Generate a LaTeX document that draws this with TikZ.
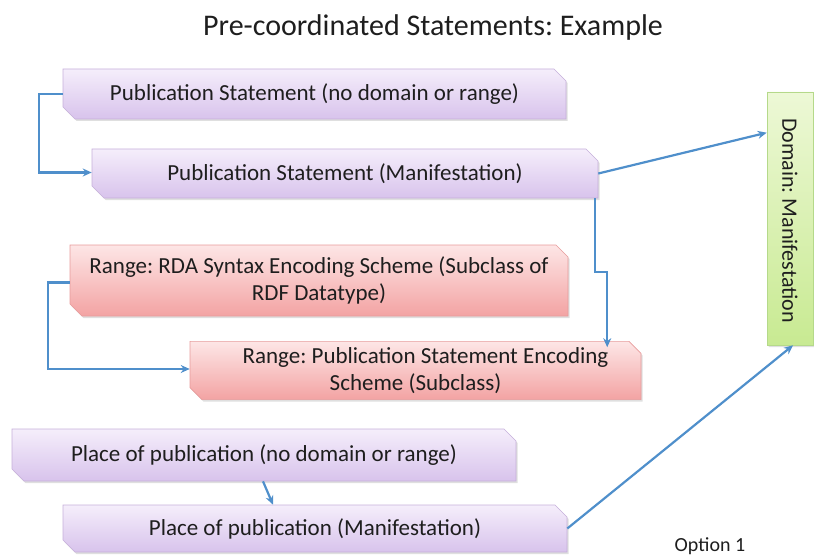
\documentclass[tikz,border=0pt]{standalone}
\usepackage{fontspec}
\setmainfont{Carlito}
\frenchspacing
\usetikzlibrary{shapes.misc,shadows,arrows.meta,calc}
\definecolor{arrblue}{HTML}{4F8FCB}
\definecolor{purtop}{HTML}{F5EEFB}
\definecolor{purbot}{HTML}{D8C3EC}
\definecolor{purline}{HTML}{C6B0DA}
\definecolor{redtop}{HTML}{FDE6E6}
\definecolor{redbot}{HTML}{F3A3A3}
\definecolor{redline}{HTML}{E79C9C}
\definecolor{grntop}{HTML}{EDF8D6}
\definecolor{grnbot}{HTML}{C8EA92}
\definecolor{grnline}{HTML}{B5D98A}
\definecolor{txt}{HTML}{1E1E1E}
\begin{document}
\begin{tikzpicture}[x=1pt,y=-1pt,
  snip/.style={chamfered rectangle, chamfered rectangle corners={north east,south west},
    chamfered rectangle xsep=6pt, chamfered rectangle ysep=6pt,
    inner sep=0pt, font=\fontsize{23}{27}\selectfont, text=txt,
    drop shadow={shadow xshift=1.5pt,shadow yshift=-2pt,opacity=0.25}, line width=0.6pt},
  purbox/.style={snip, draw=purline, top color=purtop, bottom color=purbot},
  redbox/.style={snip, draw=redline, top color=redtop, bottom color=redbot},
  grnbox/.style={snip, draw=grnline, top color=grntop, bottom color=grnbot},
  arr/.style={draw=arrblue, line width=2.2pt, -{Stealth[length=9pt,width=8pt]}}]
\useasboundingbox (0,0) rectangle (814,559);

\node[font=\fontsize{30}{36}\selectfont, text=txt] (title) at (433,28) {Pre-coordinated Statements: Example};

\node[purbox, minimum width=503pt, minimum height=50pt] (b1) at (314.5,94) {Publication Statement (no domain or range)};
\node[purbox, minimum width=506pt, minimum height=49pt] (b2) at (345,173.5) {Publication Statement (Manifestation)};
\node[redbox, minimum width=498pt, minimum height=71pt, align=center] (b3) at (319,280.5) {Range: RDA Syntax Encoding Scheme (Subclass of\\RDF Datatype)};
\node[redbox, minimum width=451pt, minimum height=55pt, align=center] (b4) at (415.5,370.5) {\hspace*{20pt}Range: Publication Statement Encoding\\Scheme (Subclass)};
\node[purbox, minimum width=504pt, minimum height=52pt] (b5) at (264,455) {Place of publication (no domain or range)};
\node[purbox, minimum width=504pt, minimum height=47pt] (b6) at (315,528.5) {Place of publication (Manifestation)};
\node[grnbox, minimum width=46pt, minimum height=253pt] (dom) at (790,218.5) {};
\node[rotate=-90, font=\fontsize{22}{26}\selectfont, text=txt] (domt) at ([yshift=-2pt]dom.center) {Domain: Manifestation};

\node[font=\fontsize{20}{24}\selectfont, text=txt] (opt) at (710,546) {Option 1};

\draw[arr] (b1.west) -- ++(-24,0) |- ([yshift=1pt]b2.west);
\draw[arr] (b2.east) -- ([yshift=-41pt]dom.north west);
\draw[arr] ([xshift=-3pt]b2.south east) -- ++(0,74) -| ([xshift=-28pt]b4.north east);
\draw[arr] ([yshift=-2pt]b3.west) -- ++(-22,0) |- ([yshift=1.5pt]b4.west);
\draw[arr] ([xshift=-1pt]b5.south) -- ([xshift=-42pt]b6.north);
\draw[arr] (b6.east) -- ([xshift=3pt]dom.south);
\end{tikzpicture}
\end{document}
